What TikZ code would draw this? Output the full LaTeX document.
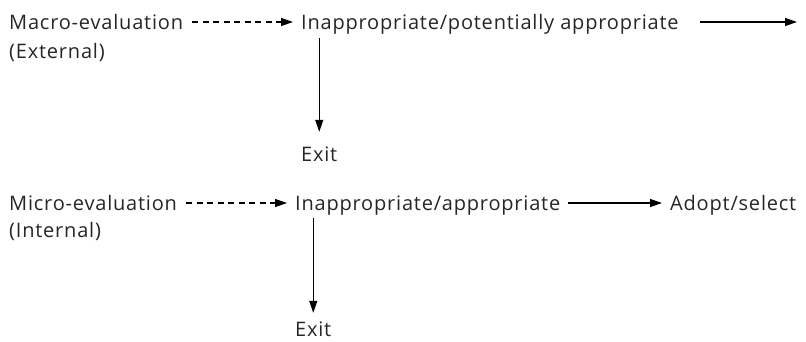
\documentclass[tikz,border=0pt]{standalone}
\usepackage{fontspec}
\setmainfont{Open Sans}[LetterSpace=4.0]
\usepackage{tikz}
\usetikzlibrary{arrows.meta,calc}
\tikzset{
  lbl/.style={
    anchor=base west,
    inner sep=0pt,
    text height=14pt,
    text depth=0pt,
    text=black!85,
    font=\fontsize{20}{24}\selectfont},
  flow/.style={
    -{Triangle[length=12pt,width=8pt]},
    line width=1.2pt,
    shorten <=9pt,
    shorten >=8pt}
  }
\begin{document}
\begin{tikzpicture}[x=1pt,y=-1pt]
      \useasboundingbox (0,0) rectangle (806,341);
      % macro row
      \node[lbl] (mac) at (9,29) {Macro-evaluation};
      \node[lbl] (macsub) at (9,58) {(External)};
      \node[lbl] (pot) at (301,29) {Inappropriate/potentially appropriate};
      \node[lbl] (exita) at (301,161) {Exit};
      \coordinate (out) at (797,22);
      % micro row
      \node[lbl] (mic) at (9,210) {Micro-evaluation};
      \node[lbl] (micsub) at (9,237) {(Internal)};
      \node[lbl] (app) at (295,210) {Inappropriate/appropriate};
      \node[lbl] (adopt) at (670,210) {Adopt/select};
      \node[lbl] (exitb) at (295,336) {Exit};
      \path[flow]
      (mac) edge[dash pattern=on 6pt off 4.5pt] (pot)
      (mic) edge[dash pattern=on 6pt off 4.5pt] (app)
      (app) edge[shorten <=7pt] (adopt);
      \draw[flow,shorten <=0pt,shorten >=0pt]
      ([xshift=21pt]pot.east) -- (out);
      \draw[flow,shorten <=9pt,shorten >=15pt]
      (exita.north |- pot.south) -- (exita.north);
      \draw[flow,shorten <=8pt,shorten >=9pt]
      (exitb.north |- app.south) -- (exitb.north);
    \end{tikzpicture}
\end{document}
